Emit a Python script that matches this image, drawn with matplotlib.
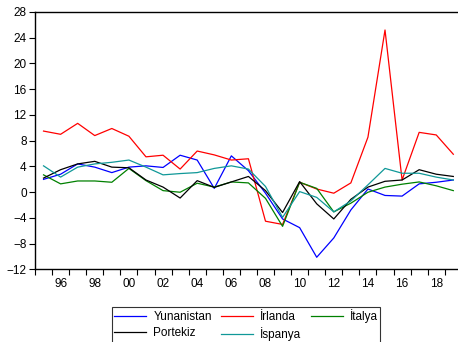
import numpy as np
import matplotlib
matplotlib.use("Agg")
import matplotlib.pyplot as plt

plt.rcParams["font.family"] = ["Liberation Sans", "DejaVu Sans"]

years = np.arange(1995, 2020)

yunanistan = [2.0, 2.8, 4.4, 3.9, 3.05, 3.9, 4.1, 3.85, 5.75, 5.0, 0.6, 5.65, 3.35,
              -0.15, -4.15, -5.5, -10.1, -7.1, -2.75, 0.5, -0.5, -0.6, 1.3, 1.55, 1.9]
irlanda = [9.5, 9.0, 10.7, 8.8, 9.9, 8.7, 5.5, 5.75, 3.6, 6.4, 5.8, 5.0, 5.2,
           -4.5, -5.0, 1.55, 0.5, -0.15, 1.45, 8.55, 25.2, 1.9, 9.3, 8.9, 5.9]
italya = [2.7, 1.3, 1.75, 1.75, 1.55, 3.7, 1.8, 0.25, 0.0, 1.4, 0.8, 1.6, 1.45,
          -0.95, -5.3, 1.55, 0.6, -3.05, -1.7, 0.0, 0.8, 1.25, 1.6, 1.0, 0.25]
portekiz = [2.2, 3.5, 4.4, 4.8, 3.9, 3.8, 1.9, 0.8, -0.9, 1.8, 0.75, 1.6, 2.45,
            0.25, -3.15, 1.65, -1.8, -4.15, -1.1, 0.8, 1.7, 1.9, 3.5, 2.8, 2.45]
ispanya = [4.1, 2.35, 3.9, 4.4, 4.65, 5.0, 3.9, 2.7, 2.9, 3.05, 3.7, 4.1, 3.6,
           0.9, -3.9, 0.1, -0.8, -3.05, -1.35, 1.15, 3.7, 2.95, 2.95, 2.35, 1.9]

series = [
    ("Yunanistan", yunanistan, "#0000FF"),
    ("İrlanda", irlanda, "#FF0000"),
    ("İtalya", italya, "#008000"),
    ("Portekiz", portekiz, "#000000"),
    ("İspanya", ispanya, "#109898"),
]

fig = plt.figure(figsize=(4.58, 3.42), dpi=100)
ax = fig.add_axes([0.0764, 0.212, 0.932, 0.753])

handles = {}
for name, vals, color in series:
    (ln,) = ax.plot(years, vals, color=color, lw=0.9, label=name)
    handles[name] = ln

ax.set_xlim(1994.5, 2019.5)
ax.set_ylim(-12, 28)
ax.set_yticks(np.arange(-12, 29, 4))
ax.tick_params(axis="y", labelsize=8.5, length=4, width=0.8, direction="out", pad=2)

# year boundaries as ticks, even years labelled at the centre
ax.set_xticks(np.arange(1994.5, 2020, 1))
ax.set_xticklabels([])
ax.tick_params(axis="x", which="major", length=4, width=0.8, direction="out")
even = np.arange(1996, 2019, 2)
ax.set_xticks(even, minor=True)
ax.set_xticklabels([f"{y % 100:02d}" for y in even], minor=True)
ax.tick_params(axis="x", which="minor", length=0, labelsize=8.5, pad=6)

ax.spines["right"].set_visible(False)
for s in ["left", "bottom", "top"]:
    ax.spines[s].set_linewidth(1.0)

order = ["Yunanistan", "Portekiz", "İrlanda", "İspanya", "İtalya"]
leg = fig.legend([handles[n] for n in order], order, ncol=3,
                 loc="upper left", bbox_to_anchor=(112 / 458, 1 - 307 / 342),
                 fontsize=8.5, frameon=True, fancybox=False, edgecolor="black",
                 handlelength=2.7, handletextpad=0.6, columnspacing=0.8,
                 labelspacing=0.3, borderpad=0.2, borderaxespad=0)
leg.get_frame().set_linewidth(0.8)

fig.savefig("out.png", dpi=100)
